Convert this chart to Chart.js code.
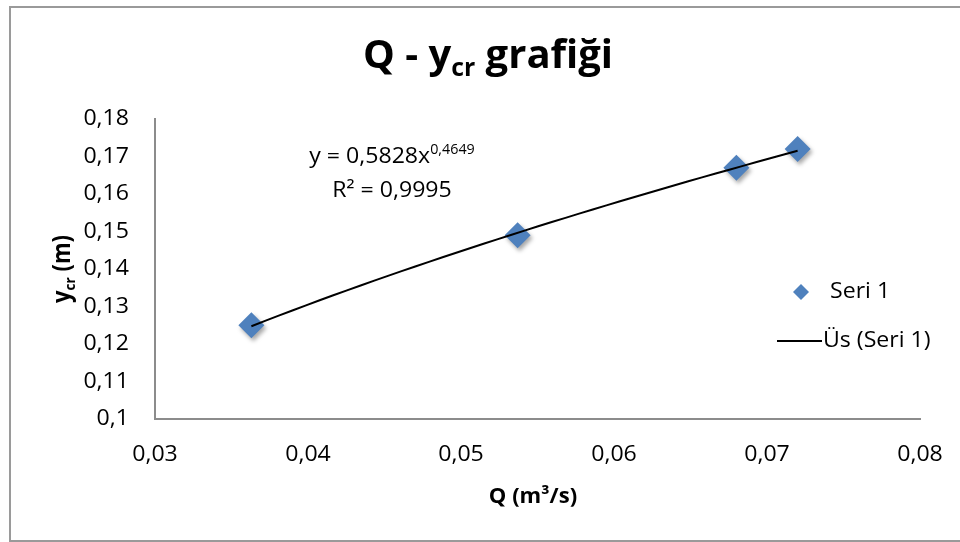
<!DOCTYPE html>
<html>
<head>
<meta charset="utf-8">
<script src="https://cdn.jsdelivr.net/npm/chart.js@4.4.1/dist/chart.umd.min.js"></script>
<style>
  html, body { margin: 0; padding: 0; background: #fff; }
  #wrap { width: 960px; height: 542px; }
</style>
</head>
<body>
<div id="wrap"><canvas id="chart" width="960" height="542"></canvas></div>
<script>
// data
const qValues = [0.0363, 0.0537, 0.068, 0.072];
const ycrValues = [0.125, 0.149, 0.167, 0.172];
const xTicks = [0.03, 0.04, 0.05, 0.06, 0.07, 0.08];
const yTicks = [0.1, 0.11, 0.12, 0.13, 0.14, 0.15, 0.16, 0.17, 0.18];
// power trendline y = a * x^b as printed on the chart
const trendCoef = 0.5828;
const trendExp = 0.4649;
const trendR2 = 0.9995;
const seriesName = "Seri 1";
const trendName = "Üs (Seri 1)";

const FONT = "'Open Sans', 'Liberation Sans', sans-serif";

const fmt = v => String(+v.toFixed(2)).replace(".", ",");
const fmt4 = v => v.toFixed(4).replace(".", ",");

const points = qValues.map((q, i) => ({ x: q, y: ycrValues[i] }));
const trendPoints = [];
const steps = 40;
for (let i = 0; i <= steps; i++) {
  const x = qValues[0] + (qValues[qValues.length - 1] - qValues[0]) * i / steps;
  trendPoints.push({ x: x, y: trendCoef * Math.pow(x, trendExp) });
}

// draws text made of parts, some of them sub- or superscript
function drawRich(ctx, parts, x, y, size, weight, align, sx) {
  ctx.save();
  ctx.textBaseline = "middle";
  ctx.textAlign = "left";
  let total = 0;
  for (const p of parts) {
    const s = p.s ? size * 0.62 : size;
    ctx.font = weight + " " + s + "px " + FONT;
    p.w = ctx.measureText(p.t).width;
    total += p.w;
  }
  ctx.translate(x, y);
  ctx.scale(sx || 1, 1);
  let cx = align === "center" ? -total / 2 : align === "right" ? -total : 0;
  for (const p of parts) {
    const s = p.s ? size * 0.62 : size;
    ctx.font = weight + " " + s + "px " + FONT;
    let dy = 0;
    if (p.s === "sub") dy = size * 0.3;
    if (p.s === "sup") dy = -size * 0.3;
    ctx.fillText(p.t, cx, dy);
    cx += p.w;
  }
  ctx.restore();
}

const excelLook = {
  id: "excelLook",
  beforeDatasetDraw(chart, args) {
    if (args.index === 0) {
      const ctx = chart.ctx;
      ctx.save();
      ctx.shadowColor = "rgba(0,0,0,0.35)";
      ctx.shadowBlur = 4;
      ctx.shadowOffsetX = 2;
      ctx.shadowOffsetY = 3;
    }
  },
  afterDatasetDraw(chart, args) {
    if (args.index === 0) chart.ctx.restore();
  },
  afterDraw(chart) {
    const ctx = chart.ctx;
    const xs = chart.scales.x;
    const ys = chart.scales.y;
    const SX = 1.05;
    const FS = 22;
    ctx.save();
    ctx.fillStyle = "#000";

    // outer frame
    ctx.strokeStyle = "#9a9a9a";
    ctx.lineWidth = 2;
    ctx.strokeRect(10, 7, 960, 534);

    // title
    drawRich(ctx, [{ t: "Q - y" }, { t: "cr", s: "sub" }, { t: " grafiği" }], 488, 57, 40, "bold", "center", 1);

    // tick labels
    for (const t of xs.ticks) {
      drawRich(ctx, [{ t: fmt(t.value) }], xs.getPixelForValue(t.value), 455, FS, "normal", "center", SX);
    }
    for (const t of ys.ticks) {
      drawRich(ctx, [{ t: fmt(t.value) }], 129, ys.getPixelForValue(t.value), FS, "normal", "right", SX);
    }

    // axis titles
    drawRich(ctx, [{ t: "Q (m³/s)" }], 533, 497, 21, "bold", "center", 1.05);
    ctx.save();
    ctx.translate(63, 269);
    ctx.scale(1.1, 1);
    ctx.rotate(-Math.PI / 2);
    drawRich(ctx, [{ t: "y" }, { t: "cr", s: "sub" }, { t: " (m)" }], 0, 0, 22, "bold", "center", 1);
    ctx.restore();

    // trendline equation
    drawRich(ctx, [{ t: "y = " + fmt4(trendCoef) + "x" }, { t: fmt4(trendExp), s: "sup" }], 392, 157, FS, "normal", "center", SX);
    drawRich(ctx, [{ t: "R² = " + fmt4(trendR2) }], 392, 191, FS, "normal", "center", SX);

    // legend
    ctx.fillStyle = "#4F81BD";
    ctx.beginPath();
    ctx.moveTo(801, 284);
    ctx.lineTo(809, 292);
    ctx.lineTo(801, 300);
    ctx.lineTo(793, 292);
    ctx.closePath();
    ctx.fill();
    ctx.fillStyle = "#000";
    drawRich(ctx, [{ t: seriesName }], 830, 292, FS, "normal", "left", SX);
    ctx.strokeStyle = "#000";
    ctx.lineWidth = 2;
    ctx.beginPath();
    ctx.moveTo(777, 341);
    ctx.lineTo(822, 341);
    ctx.stroke();
    drawRich(ctx, [{ t: trendName }], 823, 341, FS, "normal", "left", SX);
    ctx.restore();
  }
};

new Chart(document.getElementById("chart").getContext("2d"), {
  type: "scatter",
  data: {
    datasets: [
      {
        label: seriesName,
        data: points,
        pointStyle: "rectRot",
        pointRadius: 13,
        backgroundColor: "#4F81BD",
        borderColor: "#4F81BD",
        borderWidth: 0,
        order: 1,
      },
      {
        label: trendName,
        type: "line",
        data: trendPoints,
        borderColor: "#000",
        borderWidth: 2,
        pointRadius: 0,
        fill: false,
        order: 0,
      },
    ],
  },
  options: {
    responsive: false,
    animation: false,
    layout: { padding: { left: 155, right: 40, top: 119, bottom: 123 } },
    plugins: {
      legend: { display: false },
      title: { display: false },
      tooltip: { enabled: false },
    },
    scales: {
      x: {
        type: "linear",
        min: 0.03,
        max: 0.08,
        ticks: { display: false },
        afterBuildTicks: s => { s.ticks = xTicks.map(v => ({ value: v })); },
        afterFit: s => { s.height = 0; },
        grid: { display: false },
        border: { color: "#8c8c8c", width: 2 },
      },
      y: {
        type: "linear",
        min: 0.1,
        max: 0.18,
        ticks: { display: false },
        afterBuildTicks: s => { s.ticks = yTicks.map(v => ({ value: v })); },
        afterFit: s => { s.width = 0; },
        grid: { display: false },
        border: { color: "#8c8c8c", width: 2 },
      },
    },
  },
  plugins: [excelLook],
});
</script>
</body>
</html>
